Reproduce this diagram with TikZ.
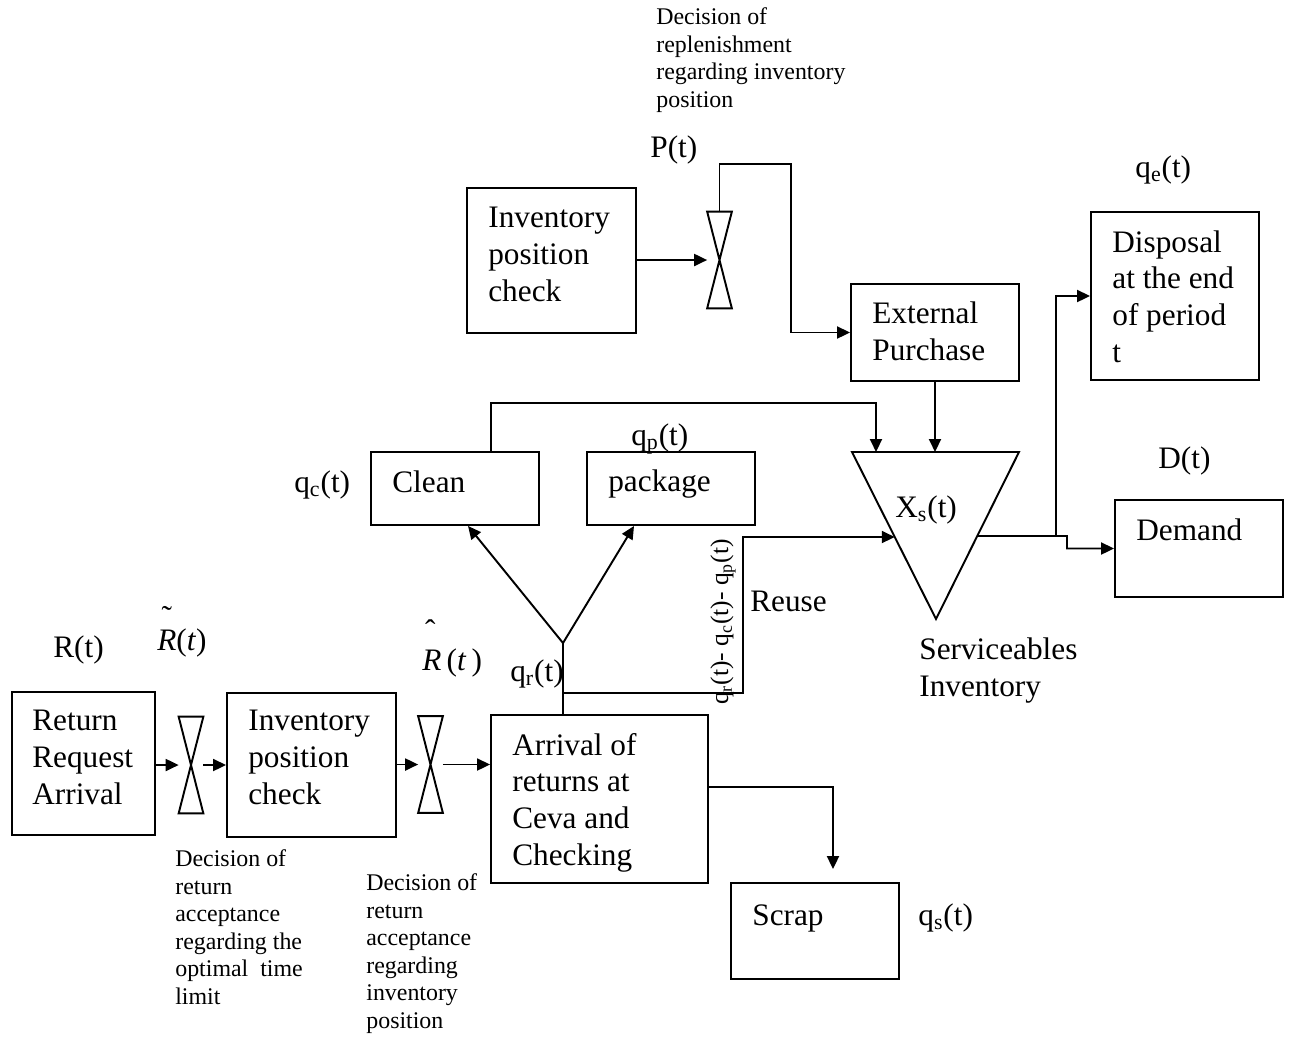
\documentclass[tikz,border=0pt]{standalone}
\usepackage{fontspec}
\setmainfont{Liberation Serif}
\usetikzlibrary{arrows.meta,calc}
\newcommand\fmain{\fontsize{17.8}{20.8}\selectfont}
\newcommand\fsmall{\fontsize{13.6}{15.6}\selectfont}
\newcommand\frot{\fontsize{14.5}{16}\selectfont}
\begin{document}
\begin{tikzpicture}[x=0.02cm,y=-0.02cm,
  box/.style={draw,line width=1.1pt,inner sep=0pt},
  valve/.style={inner sep=0pt,minimum width=0.48cm,minimum height=1.92cm},
  lbl/.style={anchor=base west,inner sep=0pt,align=left,font=\fmain},
  sml/.style={anchor=base west,inner sep=0pt,align=left,font=\fsmall},
  flow/.style={line width=1.1pt},
  arr/.style={flow,-{Triangle[length=0.26cm,width=0.24cm]}}]
\useasboundingbox (0,0) rectangle (1290,1036);
% boxes
\node[box,minimum width=2.86cm,minimum height=2.86cm] (rra) at (83.5,763.5) {};
\node[box,minimum width=3.38cm,minimum height=2.88cm] (ipcL) at (311.5,765) {};
\node[box,minimum width=4.34cm,minimum height=3.36cm] (arr) at (599.5,799) {};
\node[box,minimum width=3.36cm,minimum height=1.92cm] (scrap) at (815,931) {};
\node[box,minimum width=3.36cm,minimum height=1.46cm] (clean) at (455,488.5) {};
\node[box,minimum width=3.36cm,minimum height=1.46cm] (pack) at (671,488.5) {};
\node[box,minimum width=3.38cm,minimum height=2.9cm] (ipcU) at (551.5,260.5) {};
\node[box,minimum width=3.36cm,minimum height=1.94cm] (ext) at (935,332.5) {};
\node[box,minimum width=3.36cm,minimum height=3.36cm] (disp) at (1175,296) {};
\node[box,minimum width=3.36cm,minimum height=1.94cm] (dem) at (1199,548.5) {};
% valves
\node[valve] (v1) at (191,765) {};
\node[valve] (v2) at (430.5,764.5) {};
\node[valve] (v3) at (719.5,260) {};
\foreach \v in {v1,v2,v3}
  \draw[flow,line join=miter] (\v.north west) -- (\v.north east) -- (\v.south west) -- (\v.south east) -- cycle;
% serviceables inventory triangle
\coordinate (tl) at (852,452);
\coordinate (tr) at (1019,452);
\coordinate (tb) at (936,619);
\draw[flow] (tl) -- (tr) -- (tb) -- cycle;
\coordinate (inL) at ($(tl)!0.509!(tb)$);
\coordinate (outR) at ($(tr)!0.503!(tb)$);
\coordinate (inT) at (876,452);
\coordinate (br) at (outR -| 1056,0);
\coordinate (jn) at (563,643);
% box texts (anchor = baseline of last line)
\node[lbl] (t1) at (32,804) {Return\\Request\\Arrival};
\node[lbl] (t2) at (248,804) {Inventory\\position\\check};
\node[lbl] (t3) at (488,301) {Inventory\\position\\check};
\node[lbl] (t4) at (512,865) {Arrival of\\returns at\\Ceva and\\Checking};
\node[lbl] (t5) at (752,925) {Scrap};
\node[lbl] (t6) at (392,492) {Clean};
\node[lbl] (t7) at (608,491) {package};
\node[lbl] (t8) at (872,360) {External\\Purchase};
\node[lbl] (t9) at (1112,362) {Disposal\\at the end\\of period\\t};
\node[lbl] (t10) at (1136,540) {Demand};
\node[lbl] (t11) at (895,517) {X\textsubscript{s}(t)};
\node[lbl] (t12) at (919,696) {Serviceables\\Inventory};
\node[lbl] (t13) at (750,611) {Reuse};
% variable labels
\node[lbl] (lR) at (53,657) {R(t)};
\node[lbl] (lD) at (1158,468) {D(t)};
\node[lbl] (lqe) at (1135,177) {q\textsubscript{e}(t)};
\node[lbl] (lP) at (650,157) {P(t)};
\node[lbl] (lqp) at (631,445) {q\textsubscript{p}(t)};
\node[lbl] (lqc) at (294,492) {q\textsubscript{c}(t)};
\node[lbl] (lqr) at (510,681) {q\textsubscript{r}(t)};
\node[lbl] (lqs) at (918,925) {q\textsubscript{s}(t)};
\node[lbl] (lRt) at (157,650) {\makebox[0pt][l]{\hspace{0.14em}\raisebox{0.72em}{\char"02DC}}\textit{R}(\textit{t})};
\node[lbl] (lRh) at (422,670) {\makebox[0pt][l]{\hspace{0.09em}\raisebox{0.9em}{\char"02C6}}\textit{R}\,(\textit{t}\,)};
\node[inner sep=0pt,rotate=90,font=\frot] (lrot) at (723,622) {q\textsubscript{r}(t)- q\textsubscript{c}(t)- q\textsubscript{p}(t)};
% notes
\node[sml] (n1) at (656,107) {Decision of\\replenishment\\regarding inventory\\position};
\node[sml] (n2) at (175,1004) {Decision of\\return\\acceptance\\regarding the\\optimal\ \ time\\limit};
\node[sml] (n3) at (366,1028) {Decision of\\return\\acceptance\\regarding\\inventory\\position};
% connectors
\draw[arr] (rra.east |- v1.west) -- (v1.west);
\draw[arr] (v1.east) -- (v1.east -| ipcL.west);
\draw[arr] (ipcL.east |- v2.west) -- (v2.west);
\draw[arr] (v2.east) -- (v2.east -| arr.west);
\draw[arr,shorten >=0.26cm] ([yshift=0.24cm]arr.east) -| ([xshift=0.36cm]scrap.north);
\draw[flow] (arr.north -| jn) -- (jn);
\draw[arr] (jn) -- ([xshift=0.26cm]clean.south);
\draw[arr] (jn) -- ([xshift=-0.74cm]pack.south);
\draw[arr] (jn |- 0,693) -- (743,693) -- (743,537) -- (inL);
\draw[arr] ([xshift=0.72cm]clean.north) -- ++(0,-48) -| (inT);
\draw[arr] (ext.south) -- (ext.south |- tl);
\draw[arr] (ipcU.east |- v3.west) -- (v3.west);
\draw[arr] (v3.north) |- (791,164) |- (ext.west);
\draw[arr] (outR) -- (1067,536) -- (1067,548.5) -- (dem.west);
\draw[arr] (br) |- (disp.west);
\end{tikzpicture}
\end{document}
